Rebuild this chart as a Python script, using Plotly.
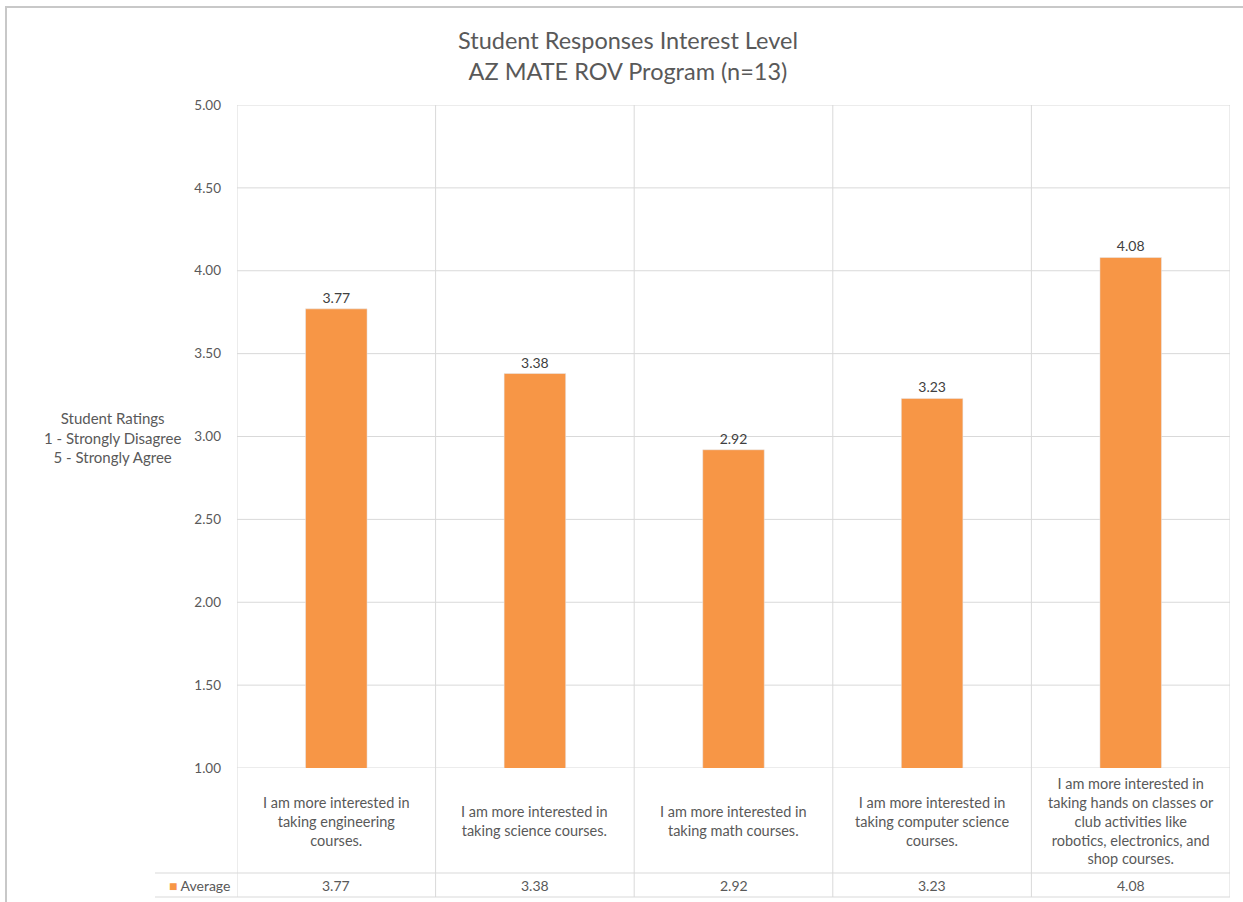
import plotly.graph_objects as go

categories = [
    "I am more interested in<br>taking engineering<br>courses.",
    "I am more interested in<br>taking science courses.",
    "I am more interested in<br>taking math courses.",
    "I am more interested in<br>taking computer science<br>courses.",
    "I am more interested in<br>taking hands on classes or<br>club activities like<br>robotics, electronics, and<br>shop courses.",
]
averages = [3.77, 3.38, 2.92, 3.23, 4.08]
series_name = "Average"
title_lines = ["Student Responses Interest Level", "AZ MATE ROV Program (n=13)"]
y_title = "Student Ratings<br>1 - Strongly Disagree<br>5 - Strongly Agree"

BAR = "#F79646"
GRID = "#D9D9D9"
TXT = "#595959"
FONT = "Lato"

W, H = 1243, 902
L, R, T, B = 237, 13, 105, 134
PH = H - T - B
PW = W - L - R

def py(p):
    return (H - B - p) / PH

def px(p):
    return (p - L) / PW

xs = list(range(len(categories)))

fig = go.Figure()
fig.add_trace(go.Bar(
    x=xs, y=averages, name=series_name, marker_color=BAR, width=0.31,
    text=[f"{v:.2f}" for v in averages], textposition="outside",
    textfont=dict(family=FONT, size=14, color="#404040"), cliponaxis=False,
))

shapes = []
shapes.append(dict(type="rect", xref="paper", yref="paper",
                   x0=px(6), x1=px(1250), y0=py(910), y1=py(7),
                   line=dict(color="#C8C8C8", width=2), layer="below"))
for v in [1.0, 1.5, 2.0, 2.5, 3.0, 3.5, 4.0, 4.5, 5.0]:
    shapes.append(dict(type="line", xref="paper", yref="y", x0=0, x1=1, y0=v, y1=v,
                       line=dict(color=GRID, width=1), layer="below"))
for i in range(len(categories) + 1):
    shapes.append(dict(type="line", xref="x", yref="paper", x0=i - 0.5, x1=i - 0.5,
                       y0=py(897), y1=1, line=dict(color=GRID, width=1), layer="below"))
for p in [873, 897]:
    shapes.append(dict(type="line", xref="paper", yref="paper", x0=px(155), x1=1,
                       y0=py(p), y1=py(p), line=dict(color=GRID, width=1), layer="below"))

annotations = []
annotations.append(dict(text="<br>".join(title_lines), xref="paper", yref="paper",
                        x=px(628), y=py(55), xanchor="center", yanchor="middle",
                        showarrow=False, font=dict(family=FONT, size=23.5, color=TXT)))
annotations.append(dict(text=y_title, xref="paper", yref="paper", x=px(112), y=py(437),
                        xanchor="center", yanchor="middle", align="center", showarrow=False,
                        font=dict(family=FONT, size=15, color=TXT)))
for i, c in enumerate(categories):
    annotations.append(dict(text=c, xref="x", yref="paper", x=i, y=py(821),
                            xanchor="center", yanchor="middle", align="center", showarrow=False,
                            font=dict(family=FONT, size=14.5, color=TXT)))
    annotations.append(dict(text=f"{averages[i]:.2f}", xref="x", yref="paper", x=i, y=py(885),
                            xanchor="center", yanchor="middle", showarrow=False,
                            font=dict(family=FONT, size=14, color=TXT)))
annotations.append(dict(text=f"<span style='color:{BAR}'>■</span> {series_name}",
                        xref="paper", yref="paper", x=px(232), y=py(885),
                        xanchor="right", yanchor="middle", showarrow=False,
                        font=dict(family=FONT, size=14, color=TXT)))

fig.update_layout(
    width=W, height=H,
    margin=dict(l=L, r=R, t=T, b=B),
    paper_bgcolor="white", plot_bgcolor="white",
    showlegend=False, bargap=0.69,
    shapes=shapes, annotations=annotations,
    font=dict(family=FONT, color=TXT),
    xaxis=dict(range=[-0.5, 4.5], showticklabels=False, showgrid=False,
               zeroline=False, showline=False, fixedrange=True),
    yaxis=dict(range=[1, 5], dtick=0.5, tick0=1, tickformat=".2f", showgrid=False,
               zeroline=False, showline=False, ticks="", ticklabelstandoff=15,
               tickfont=dict(family=FONT, size=13.5, color=TXT)),
)

fig.write_html("out.html")
